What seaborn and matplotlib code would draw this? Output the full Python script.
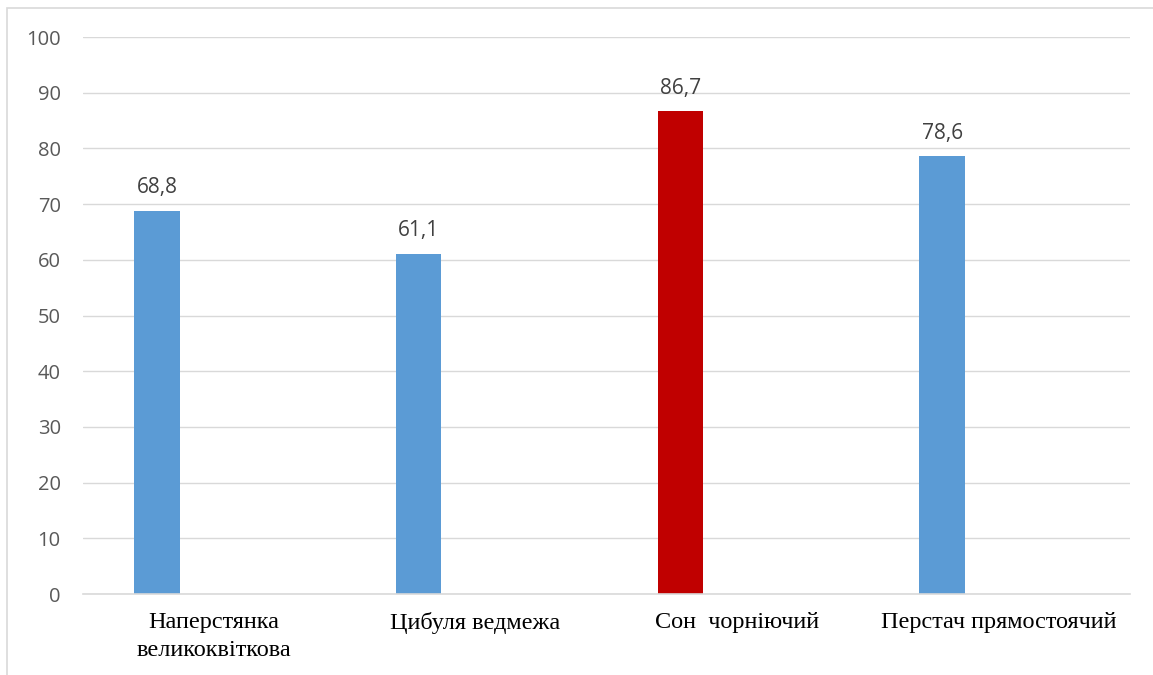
import pandas as pd
import matplotlib.pyplot as plt
import seaborn as sns
from matplotlib.patches import Rectangle

# --- data ---
categories = ["Наперстянка\nвеликоквіткова", "Цибуля ведмежа", "Сон  чорніючий", "Перстач прямостоячий"]
values = [68.8, 61.1, 86.7, 78.6]
bar_colors = ["#5B9BD5", "#5B9BD5", "#C00000", "#5B9BD5"]
y_ticks = [0, 10, 20, 30, 40, 50, 60, 70, 80, 90, 100]

# excel-style layout: the bar sits in the left half of each slot (empty second series)
df = pd.DataFrame({
    "category": categories * 2,
    "series": ["main"] * len(categories) + ["empty"] * len(categories),
    "value": values + [0] * len(categories),
})

sns.set_theme(style="white")
plt.rcParams["font.family"] = ["Liberation Sans", "DejaVu Sans"]

fig = plt.figure(figsize=(11.53, 6.75), dpi=100)
ax = fig.add_axes([0.072, 0.12, 0.908, 0.825])

sns.barplot(data=df, x="category", y="value", hue="series", order=categories,
            hue_order=["main", "empty"], palette=["#5B9BD5", "#FFFFFF"],
            width=0.87, gap=0.6, linewidth=0, legend=False, errorbar=None, ax=ax)

# recolour the real bars and label them
main_bars = ax.patches[:len(categories)]
for bar, col, v in zip(main_bars, bar_colors, values):
    bar.set_facecolor(col)
    ax.annotate(f"{v:.1f}".replace(".", ","),
                (bar.get_x() + bar.get_width() / 2, bar.get_height()),
                xytext=(0, 9), textcoords="offset points", ha="center", va="bottom",
                fontsize=15, color="#404040", family=["Open Sans", "DejaVu Sans"])

ax.set_ylim(0, 100)
ax.set_xlim(-0.5, len(categories) - 0.5)
ax.set_yticks(y_ticks)
ax.set_yticklabels([str(t) for t in y_ticks], fontsize=14.5, color="#595959",
                   family=["Open Sans", "DejaVu Sans"])
ax.set_xticks(range(len(categories)))
ax.set_xticklabels(categories, fontsize=17.5, color="black",
                   family=["Liberation Serif", "DejaVu Serif"], linespacing=1.45)
ax.tick_params(axis="y", length=0, pad=16)
ax.tick_params(axis="x", length=0, pad=13)
ax.set_xlabel("")
ax.set_ylabel("")

ax.yaxis.grid(True, color="#D9D9D9", linewidth=1)
ax.set_axisbelow(True)
for side in ["top", "right", "left"]:
    ax.spines[side].set_visible(False)
ax.spines["bottom"].set_color("#D9D9D9")
ax.spines["bottom"].set_linewidth(1.2)

# thin chart border like the excel chart area
fig.patches.append(Rectangle((0.006, -0.01), 1.1, 0.998, transform=fig.transFigure,
                             fill=False, edgecolor="#D9D9D9", linewidth=1.2))

fig.savefig("out.png", dpi=100)
